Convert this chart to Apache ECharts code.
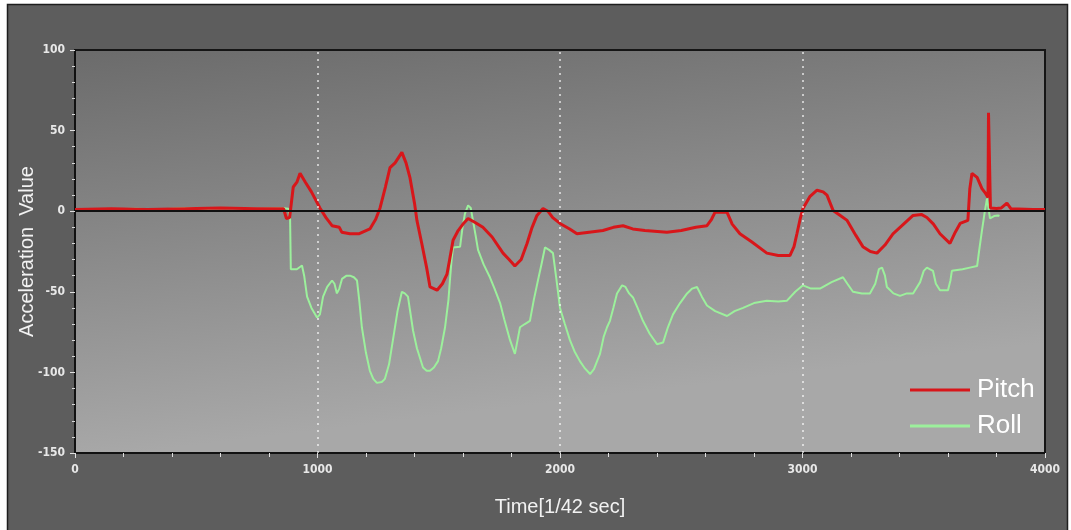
<!DOCTYPE html>
<html>
<head>
<meta charset="utf-8">
<script src="https://cdn.jsdelivr.net/npm/echarts@6/dist/echarts.min.js"></script>
<style>
  html, body { margin: 0; padding: 0; background: #ffffff; }
  #chart { width: 1071px; height: 530px; }
</style>
</head>
<body>
<div id="chart"></div>
<script>
// Sensor log: time in 1/42 s samples, acceleration readings
const seriesNames = ['Pitch', 'Roll'];
const xTicks = [0, 1000, 2000, 3000, 4000];
const yTicks = [-150, -100, -50, 0, 50, 100];
const gridMarks = [1000, 2000, 3000];

const pitch = [
  [0, 1], [150, 1.5], [300, 1], [450, 1.5], [600, 2], [750, 1.5], [860, 1.5],
  [872, -4.5], [885, -4], [900, 15], [915, 18], [928, 23.5], [950, 18], [975, 12],
  [1010, 2], [1035, -4], [1060, -9], [1090, -10], [1100, -13], [1134, -14], [1170, -14],
  [1216, -11], [1240, -5], [1258, 2], [1280, 15], [1299, 27], [1320, 30], [1348, 36.5],
  [1365, 30], [1381, 21], [1400, 5], [1410, -5.7], [1430, -20], [1450, -35], [1464, -47],
  [1493, -49], [1515, -45], [1534, -39], [1545, -30], [1559, -18], [1580, -12], [1600, -8],
  [1621, -4.5], [1650, -7], [1682, -10], [1720, -16], [1765, -26], [1790, -30], [1814, -34],
  [1840, -30], [1864, -20], [1885, -10], [1905, -2.6], [1930, 1.7], [1950, 0], [1970, -4],
  [2000, -7.6], [2040, -11], [2070, -14], [2120, -13], [2177, -12], [2220, -10], [2260, -9],
  [2300, -11], [2350, -12], [2441, -13], [2500, -12], [2560, -10], [2606, -9], [2625, -5],
  [2639, -0.7], [2689, -0.7], [2710, -8], [2742, -14], [2790, -19], [2853, -26], [2900, -27.5],
  [2948, -27.5], [2965, -22], [2977, -14], [2990, -5], [3002, 1.7], [3030, 9], [3060, 13],
  [3085, 12], [3101, 10], [3126, 0.5], [3150, -2], [3184, -5.7], [3220, -15], [3249, -22],
  [3280, -25], [3307, -26], [3340, -21], [3373, -14], [3410, -9], [3456, -2.6], [3490, -2],
  [3513, -3.9], [3540, -8], [3567, -14], [3608, -20], [3630, -13], [3650, -7.6], [3682, -5.7],
  [3690, 14], [3699, 23.5], [3720, 21], [3740, 14], [3755, 11], [3765, 8.6], [3767, 61],
  [3773, 61], [3775, 2], [3800, 1.7], [3820, 2], [3843, 5], [3860, 1.5], [3950, 1], [4000, 1]
];

const roll = [
  [0, 1], [100, 1], [250, 1.5], [350, 1], [450, 2], [550, 1.5], [650, 2], [750, 1.5],
  [850, 2], [880, 1.5], [887, -5], [890, -36], [915, -36], [936, -33.7], [945, -40], [957, -53],
  [975, -60], [998, -66], [1010, -64], [1023, -53], [1040, -47], [1060, -43], [1070, -45],
  [1080, -51], [1090, -48], [1101, -42], [1120, -40], [1134, -40], [1150, -41], [1163, -43],
  [1172, -55], [1183, -72], [1200, -88], [1216, -99], [1230, -104], [1245, -106.5], [1265, -106],
  [1278, -104], [1295, -95], [1311, -80], [1330, -62], [1348, -50], [1360, -51], [1373, -53],
  [1385, -65], [1394, -74], [1410, -85], [1435, -97], [1450, -99], [1464, -99], [1480, -97],
  [1497, -93], [1510, -85], [1526, -72], [1540, -55], [1546, -43], [1553, -30], [1559, -22.5],
  [1588, -22], [1598, -10], [1608, -1.5], [1621, 3.6], [1632, 2], [1641, -5.7], [1652, -15],
  [1662, -24], [1685, -33], [1711, -41], [1730, -48], [1753, -57], [1770, -67], [1794, -80],
  [1814, -88.5], [1825, -80], [1835, -72], [1855, -70], [1876, -68], [1892, -55], [1909, -43],
  [1925, -32], [1938, -22.5], [1955, -24], [1971, -26], [1985, -42], [2000, -60], [2020, -70],
  [2041, -80], [2060, -87], [2082, -93], [2100, -97], [2124, -101], [2140, -98], [2153, -93],
  [2165, -88.5], [2180, -78], [2194, -72], [2206, -68], [2220, -60], [2235, -51], [2256, -46],
  [2270, -47], [2285, -51], [2301, -53.5], [2320, -60], [2342, -68], [2370, -76], [2400, -82.5],
  [2425, -81.5], [2445, -72], [2466, -64], [2495, -57], [2524, -51], [2545, -48], [2565, -47],
  [2585, -53], [2606, -58.5], [2640, -62], [2689, -65], [2720, -62], [2755, -60], [2800, -57],
  [2853, -55.5], [2900, -56], [2936, -55.5], [2970, -50], [3002, -46], [3035, -48], [3072, -48],
  [3120, -44], [3167, -41], [3185, -45], [3208, -50], [3245, -51], [3278, -51], [3300, -45],
  [3315, -36], [3328, -35], [3340, -40], [3348, -47], [3375, -51], [3402, -52.5], [3430, -51],
  [3456, -51], [3485, -44], [3500, -37], [3513, -35], [3538, -37], [3550, -45], [3567, -49],
  [3600, -49], [3610, -43], [3616, -37], [3660, -36], [3690, -35], [3720, -34], [3728, -25],
  [3740, -12], [3752, 0], [3761, 8], [3767, 2], [3773, -4.5], [3790, -3], [3806, -2.6], [3812, -3]
];

const chart = echarts.init(document.getElementById('chart'), null, { renderer: 'canvas' });

const tickLabel = {
  color: '#e8e8e8',
  fontSize: 12,
  fontWeight: 'bold',
  fontFamily: 'Liberation Sans Narrow, DejaVu Sans Condensed, Liberation Sans, sans-serif',
  formatter: v => String(v)
};

const nameFont = { color: '#f2f2f2', fontSize: 20, fontFamily: 'Liberation Sans, Arial, sans-serif' };

chart.setOption({
  animation: false,
  backgroundColor: '#ffffff',
  graphic: [{
    type: 'rect',
    z: -10,
    silent: true,
    shape: { x: 7.5, y: 4.5, width: 1060, height: 540 },
    style: { fill: '#5d5d5d', stroke: '#1e1e1e', lineWidth: 1.5 }
  }],
  grid: {
    left: 75, right: 26, top: 50, bottom: 77,
    show: true,
    borderColor: '#151515',
    borderWidth: 2,
    backgroundColor: {
      type: 'linear', x: 0, y: 0, x2: 0.05, y2: 1,
      colorStops: [
        { offset: 0, color: '#6b6b6b' },
        { offset: 1, color: '#a8a8a8' }
      ]
    }
  },
  legend: {
    data: seriesNames,
    orient: 'vertical',
    left: 905,
    top: 372,
    itemWidth: 60,
    itemHeight: 3,
    itemGap: 10,
    icon: 'rect',
    textStyle: {
      color: '#ffffff',
      fontSize: 26,
      fontFamily: 'Liberation Sans, Arial, sans-serif',
      padding: [0, 0, 0, 2]
    }
  },
  xAxis: {
    type: 'value',
    min: xTicks[0],
    max: xTicks[xTicks.length - 1],
    interval: 1000,
    name: 'Time[1/42 sec]',
    nameLocation: 'middle',
    nameMoveOverlap: false,
    nameGap: 44,
    nameTextStyle: nameFont,
    axisLine: { show: true, onZero: false, lineStyle: { color: '#111111', width: 2 } },
    axisTick: { show: true, length: 5, lineStyle: { color: '#e0e0e0', width: 1 } },
    minorTick: { show: true, splitNumber: 5, length: 4, lineStyle: { color: '#e0e0e0', width: 1 } },
    axisLabel: Object.assign({ margin: 11 }, tickLabel),
    splitLine: { show: false }
  },
  yAxis: {
    type: 'value',
    min: yTicks[0],
    max: yTicks[yTicks.length - 1],
    interval: 50,
    name: 'Acceleration  Value',
    nameLocation: 'middle',
    nameMoveOverlap: false,
    nameGap: 38,
    nameTextStyle: nameFont,
    axisLine: { show: true, lineStyle: { color: '#111111', width: 2 } },
    axisTick: { show: true, length: 5, lineStyle: { color: '#e0e0e0', width: 1 } },
    minorTick: { show: true, splitNumber: 5, length: 3, lineStyle: { color: '#d8d8d8', width: 1 } },
    axisLabel: Object.assign({ margin: 10 }, tickLabel),
    splitLine: { show: false }
  },
  series: [
    {
      name: seriesNames[1],
      type: 'line',
      data: roll,
      symbol: 'none',
      z: 3,
      lineStyle: { color: '#9cf09c', width: 2 },
      itemStyle: { color: '#9cf09c' },
      markLine: {
        silent: true,
        symbol: 'none',
        label: { show: false },
        lineStyle: { color: 'rgba(255,255,255,0.8)', type: [2, 5], width: 1.5 },
        data: gridMarks.map(v => ({ xAxis: v }))
      }
    },
    {
      name: seriesNames[0],
      type: 'line',
      data: pitch,
      symbol: 'none',
      z: 4,
      lineStyle: { color: '#d8161a', width: 3 },
      itemStyle: { color: '#d8161a' },
      markLine: {
        silent: true,
        symbol: 'none',
        label: { show: false },
        lineStyle: { color: '#111111', type: 'solid', width: 2 },
        data: [{ yAxis: 0 }]
      }
    }
  ]
});
</script>
</body>
</html>
